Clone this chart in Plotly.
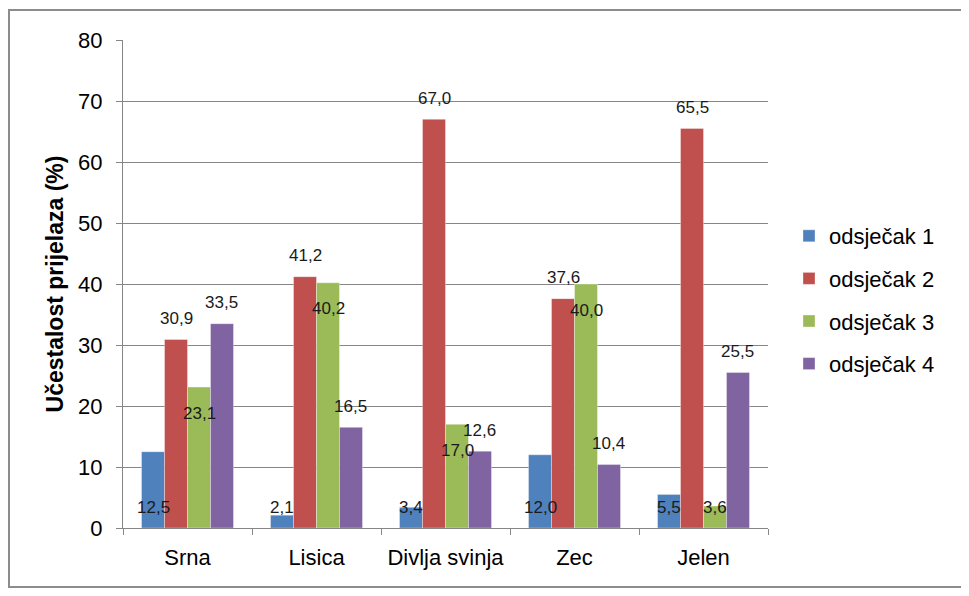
import plotly.graph_objects as go

categories = ["Srna", "Lisica", "Divlja svinja", "Zec", "Jelen"]
series_names = ["odsječak 1", "odsječak 2", "odsječak 3", "odsječak 4"]
odsjecak_1 = [12.5, 2.1, 3.4, 12.0, 5.5]
odsjecak_2 = [30.9, 41.2, 67.0, 37.6, 65.5]
odsjecak_3 = [23.1, 40.2, 17.0, 40.0, 3.6]
odsjecak_4 = [33.5, 16.5, 12.6, 10.4, 25.5]
colors = ["#4F81BD", "#C0504D", "#9BBB59", "#8064A2"]
y_ticks = [0, 10, 20, 30, 40, 50, 60, 70, 80]

series = [odsjecak_1, odsjecak_2, odsjecak_3, odsjecak_4]
FONT = "Liberation Sans, Arial, sans-serif"

# page body has an 8px margin; plot area in screen coords: x 123..768, y 40..528
OFF = 8
L, R, T, B = 123 - OFF, 969 - (768 - OFF), 40 - OFF, 596 - (528 - OFF)
PW, PH = 645, 488

fig = go.Figure()
for i, (name, vals) in enumerate(zip(series_names, series)):
    fig.add_trace(go.Bar(
        x=categories, y=vals, name=name, offsetgroup=str(i),
        legendgroup=str(i),
        marker=dict(color=colors[i], line=dict(color="rgba(255,255,255,0.35)", width=1)),
        hoverinfo="skip",
    ))

# Excel-style data labels placed per series
n = len(series)
bargap = 0.287
group_w = 1 - bargap
bar_w = group_w / n
px_per_unit = PH / 80.0
annotations = []
for i, vals in enumerate(series):
    for j, v in enumerate(vals):
        xc = j - group_w / 2 + bar_w * (i + 0.5)
        if i == 0:
            y, ys = 0, 21
        elif i == 2:
            if v * px_per_unit - 26 > 21:
                y, ys = v, -26
            else:
                y, ys = 0, 21
        else:
            y, ys = v, 21
        annotations.append(dict(
            x=xc, y=y, xref="x", yref="y", yshift=ys,
            text=f"{v:.1f}".replace(".", ","), showarrow=False,
            font=dict(family=FONT, size=17, color="#1a1a1a"),
            xanchor="center", yanchor="middle",
        ))

def px_x(sx):
    return (sx - 123) / PW

def px_y(sy):
    return (528 - sy) / PH

fig.update_layout(
    width=969, height=596,
    margin=dict(l=L, r=R, t=T, b=B, autoexpand=False),
    paper_bgcolor="white", plot_bgcolor="white",
    barmode="group", bargap=bargap, bargroupgap=0,
    font=dict(family=FONT, color="#000000"),
    annotations=annotations,
    legend=dict(
        x=px_x(789), xanchor="left", y=px_y(300), yanchor="middle",
        font=dict(family=FONT, size=22, color="#000000"),
        tracegroupgap=11, itemwidth=30,
        bgcolor="rgba(0,0,0,0)",
    ),
    shapes=[dict(
        type="rect", xref="paper", yref="paper",
        x0=px_x(9), x1=px_x(964),
        y0=px_y(587), y1=px_y(10),
        line=dict(color="#8c8c8c", width=2), fillcolor="rgba(0,0,0,0)",
        layer="below",
    )],
)
fig.update_xaxes(
    type="category", range=[-0.5, 4.5],
    showline=True, linecolor="#868686", linewidth=1,
    ticks="outside", tickson="boundaries", ticklen=6, tickcolor="#868686",
    tickfont=dict(family=FONT, size=22, color="#000000"),
    showgrid=False, ticklabelstandoff=10, automargin=False,
)
fig.update_yaxes(
    range=[0, 80], tickvals=y_ticks,
    showline=True, linecolor="#868686", linewidth=1,
    ticks="outside", ticklen=6, tickcolor="#868686",
    showgrid=True, gridcolor="#868686", gridwidth=1,
    zeroline=False, automargin=False,
    tickfont=dict(family=FONT, size=22, color="#000000"),
    ticklabelstandoff=9,
    title=dict(text="<b>Učestalost prijelaza (%)</b>", standoff=8,
               font=dict(family=FONT, size=23, color="#000000")),
)

fig.write_html("out.html")
